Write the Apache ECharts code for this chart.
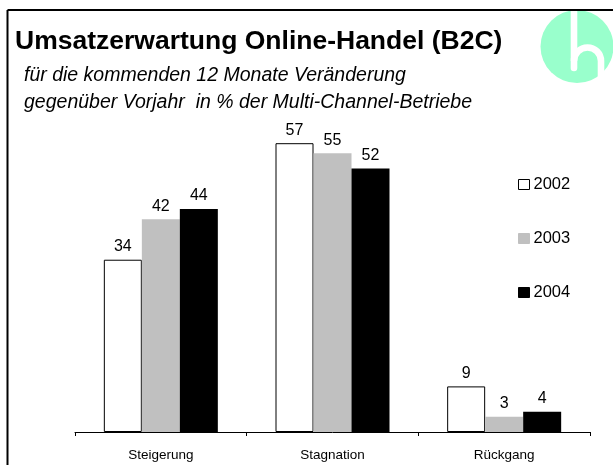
<!DOCTYPE html>
<html>
<head>
<meta charset="utf-8">
<style>
html,body{margin:0;padding:0;background:#fff;}
#chart{width:613px;height:465px;}
</style>
<script src="https://cdn.jsdelivr.net/npm/echarts@6/dist/echarts.min.js"></script>
</head>
<body>
<div id="chart"></div>
<script>
var categories = ['Steigerung', 'Stagnation', 'Rückgang'];
var seriesNames = ['2002', '2003', '2004'];
var values2002 = [34, 57, 9];
var values2003 = [42, 55, 3];
var values2004 = [44, 52, 4];
var titleText = 'Umsatzerwartung Online-Handel (B2C)';
var subtitleLine1 = 'für die kommenden 12 Monate Veränderung';
var subtitleLine2 = 'gegenüber Vorjahr  in % der Multi-Channel-Betriebe';

var FONT = '"Liberation Sans", Arial, Helvetica, sans-serif';
var chart = echarts.init(document.getElementById('chart'), null, {renderer: 'canvas'});

function mkSeries(name, data, color, border) {
  return {
    name: name,
    type: 'bar',
    data: data,
    barWidth: 38,
    barGap: '0%',
    itemStyle: {color: color, borderColor: border || color, borderWidth: border ? 1 : 0},
    label: {show: true, position: 'top', distance: 5, color: '#000', fontSize: 16, fontFamily: FONT}
  };
}

var option = {
  backgroundColor: '#fff',
  animation: false,
  title: {
    text: titleText,
    left: 10, top: 23,
    textStyle: {fontFamily: FONT, fontSize: 26.5, fontWeight: 'bold', color: '#000'}
  },
  legend: {
    data: seriesNames.map(function (n) { return {name: n, itemStyle: {borderWidth: 1}}; }),
    orient: 'vertical',
    left: 513, top: 171,
    itemWidth: 11, itemHeight: 10, itemGap: 37,
    icon: 'rect',
    textStyle: {fontFamily: FONT, fontSize: 16.5, color: '#000', padding: [0,0,0,-1]}
  },
  grid: {left: 75, right: 23, bottom: 33, top: 128},
  xAxis: {
    type: 'category',
    data: categories,
    axisLine: {lineStyle: {color: '#000', width: 1}},
    axisTick: {show: true, length: 4, lineStyle: {color: '#000'}},
    axisLabel: {color: '#000', fontFamily: FONT, fontSize: 13.5, margin: 16}
  },
  yAxis: {type: 'value', min: 0, max: 60, show: false, splitLine: {show: false}},
  series: [
    mkSeries(seriesNames[0], values2002, '#ffffff', '#000'),
    mkSeries(seriesNames[1], values2003, '#C0C0C0', null),
    mkSeries(seriesNames[2], values2004, '#000000', null)
  ],
  graphic: [
    {type: 'circle', shape: {cx: 577, cy: 46.5, r: 36.5}, style: {fill: '#99FFCC'}, z: 1},
    {type: 'line', shape: {x1: 574, y1: 6, x2: 574, y2: 68}, style: {stroke: '#fff', lineWidth: 6.6, lineCap: 'round'}, z: 2},
    {type: 'arc', shape: {cx: 587.5, cy: 61, r: 13.5, startAngle: Math.PI, endAngle: 2 * Math.PI, clockwise: true}, style: {stroke: '#fff', fill: null, lineWidth: 6.6}, z: 2},
    {type: 'line', shape: {x1: 601, y1: 61, x2: 601, y2: 95}, style: {stroke: '#fff', lineWidth: 6.6}, z: 2},
    {type: 'line', shape: {x1: 7.5, y1: 10, x2: 613, y2: 10}, style: {stroke: '#000', lineWidth: 2}, z: 5},
    {type: 'line', shape: {x1: 7.5, y1: 10, x2: 7.5, y2: 465}, style: {stroke: '#000', lineWidth: 2}, z: 5},
    {type: 'text', left: 24, top: 66, style: {text: subtitleLine1, font: 'italic 19.5px ' + FONT, fill: '#000'}, z: 5},
    {type: 'text', left: 24, top: 93, style: {text: subtitleLine2, font: 'italic 19.5px ' + FONT, fill: '#000'}, z: 5}
  ]
};
chart.setOption(option);
</script>
</body>
</html>
